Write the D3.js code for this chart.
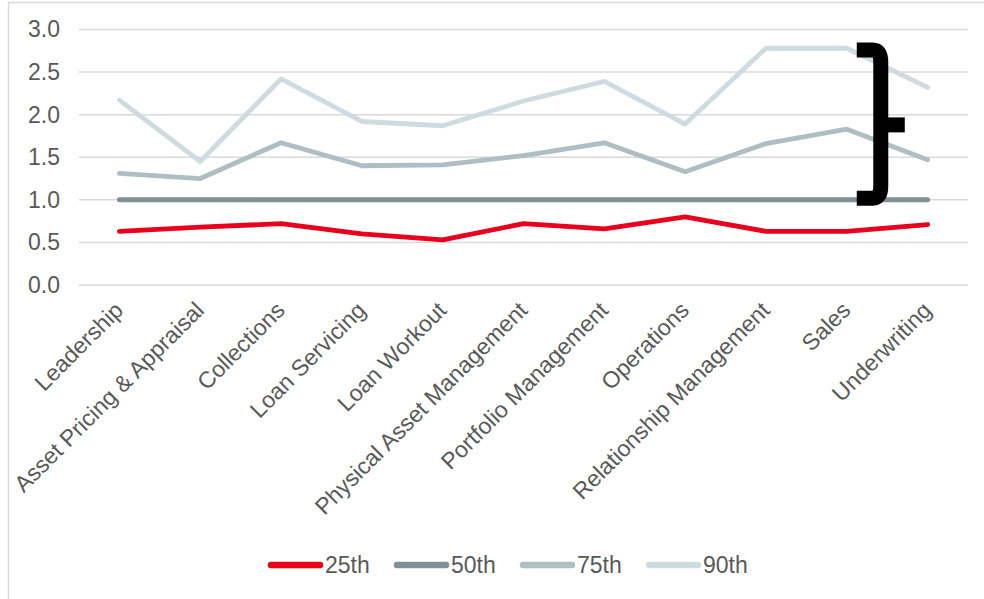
<!DOCTYPE html>
<html>
<head>
<meta charset="utf-8">
<script src="https://cdn.jsdelivr.net/npm/d3@7"></script>
<style>
  html, body { margin: 0; padding: 0; background: #fff; }
  svg { display: block; }
  text { font-family: "Liberation Sans", Arial, sans-serif; }
</style>
</head>
<body>
<svg id="chart" width="984" height="599"></svg>
<script>
const categories = ["Leadership", "Asset Pricing & Appraisal", "Collections", "Loan Servicing", "Loan Workout",
  "Physical Asset Management", "Portfolio Management", "Operations", "Relationship Management", "Sales", "Underwriting"];
const p25 = [0.63, 0.68, 0.72, 0.60, 0.53, 0.72, 0.66, 0.80, 0.63, 0.63, 0.71];
const p50 = [1.0, 1.0, 1.0, 1.0, 1.0, 1.0, 1.0, 1.0, 1.0, 1.0, 1.0];
const p75 = [1.31, 1.25, 1.67, 1.40, 1.41, 1.52, 1.67, 1.33, 1.66, 1.83, 1.47];
const p90 = [2.17, 1.45, 2.42, 1.92, 1.87, 2.16, 2.39, 1.89, 2.78, 2.78, 2.32];
const seriesNames = ["25th", "50th", "75th", "90th"];
const seriesValues = [p25, p50, p75, p90];
const seriesColors = ["#e8001c", "#7f9097", "#adbfc2", "#cfdcdf"];
const seriesWidths = [4.8, 5, 4.8, 4.8];
const yTicks = [0, 0.5, 1.0, 1.5, 2.0, 2.5, 3.0];
// bracket annotation spans these values (top arm, nub, bottom arm)
const bracketValues = [2.76, 1.88, 1.02];

const svg = d3.select("#chart");
const W = 984, H = 599;

// outer frame
svg.append("rect").attr("x", 8.5).attr("y", 2.5).attr("width", W + 20).attr("height", H + 20)
  .attr("fill", "none").attr("stroke", "#d9d9d9").attr("stroke-width", 1.5);

const x0 = 79, x1 = 968;
const x = d3.scalePoint().domain(categories).range([x0, x1]).padding(0.5);
const y = d3.scaleLinear().domain([0, 3]).range([285, 29.5]);

// gridlines
svg.append("g").selectAll("line").data(yTicks).join("line")
  .attr("x1", x0).attr("x2", x1)
  .attr("y1", d => y(d)).attr("y2", d => y(d))
  .attr("stroke", "#d9d9d9").attr("stroke-width", 1.5);

// y axis labels
const yAxis = d3.axisLeft(y).tickValues(yTicks).tickFormat(d3.format(".1f")).tickSize(0).tickPadding(0);
const gy = svg.append("g").attr("transform", "translate(60,0)").call(yAxis);
gy.select(".domain").remove();
gy.selectAll("text").attr("font-size", 23).attr("fill", "#595959")
  .attr("font-family", "'Liberation Sans', Arial, sans-serif");

// x axis labels
const xAxis = d3.axisBottom(x).tickSize(0).tickPadding(0);
const gx = svg.append("g").attr("transform", "translate(0,285)").call(xAxis);
gx.select(".domain").remove();
gx.selectAll("text")
  .attr("font-size", 23).attr("fill", "#595959")
  .attr("font-family", "'Liberation Sans', Arial, sans-serif")
  .attr("text-anchor", "end")
  .attr("dy", "0.35em")
  .attr("transform", "translate(-1,21) rotate(-45)")
  .attr("y", 0);

// lines
const line = d3.line().x((d, i) => x(categories[i])).y(d => y(d));
svg.append("g").selectAll("path").data(seriesValues).join("path")
  .attr("d", d => line(d))
  .attr("fill", "none")
  .attr("stroke", (d, i) => seriesColors[i])
  .attr("stroke-width", (d, i) => seriesWidths[i])
  .attr("stroke-linejoin", "round")
  .attr("stroke-linecap", "round");

// bracket annotation
const bx = x("Sales");
const yt = y(bracketValues[0]), ym = y(bracketValues[1]), yb = y(bracketValues[2]);
const bg = svg.append("g");
bg.append("path")
  .attr("d", `M${bx + 10},${yt} H${bx + 26} Q${bx + 34},${yt} ${bx + 34},${yt + 12} V${yb - 12} Q${bx + 34},${yb} ${bx + 26},${yb} H${bx + 10}`)
  .attr("fill", "none").attr("stroke", "#000").attr("stroke-width", 15);
bg.append("line")
  .attr("x1", bx + 34).attr("x2", bx + 58).attr("y1", ym).attr("y2", ym)
  .attr("stroke", "#000").attr("stroke-width", 15);

// legend
const legendStart = 268, legendStep = 126, legendY = 565;
const lg = svg.append("g").selectAll("g").data(seriesNames).join("g")
  .attr("transform", (d, i) => `translate(${legendStart + i * legendStep},${legendY})`);
lg.append("line").attr("x1", 3).attr("x2", 52).attr("y1", 0).attr("y2", 0)
  .attr("stroke", (d, i) => seriesColors[i]).attr("stroke-width", 6.5).attr("stroke-linecap", "round");
lg.append("text").attr("x", 57).attr("y", 0).attr("dy", "0.35em")
  .attr("font-size", 23).attr("fill", "#595959").text(d => d);
</script>
</body>
</html>
